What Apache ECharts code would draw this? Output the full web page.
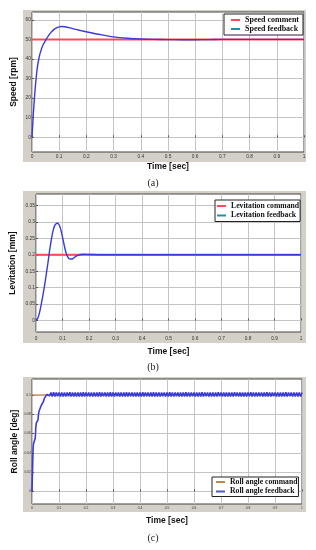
<!DOCTYPE html>
<html><head><meta charset="utf-8">
<script src="https://cdn.jsdelivr.net/npm/echarts@6/dist/echarts.min.js"></script>
<style>html,body{margin:0;padding:0;background:#fff}#c{width:316px;height:550px}</style>
</head><body><div id="c"></div>
<script>
// ---- tick labels ----
const timeTicks = [0, 0.1, 0.2, 0.3, 0.4, 0.5, 0.6, 0.7, 0.8, 0.9, 1];
const speedTicks = [0, 10, 20, 30, 40, 50, 60];
const levTicks = [0, 0.05, 0.1, 0.15, 0.2, 0.25, 0.3, 0.35];
const rollTicks = [0, 0.02, 0.04, 0.06, 0.08, 0.1];

// ---- (a) speed ----
const speedCommand = 50;
const speedTime = [0, 0.005, 0.01, 0.015, 0.02, 0.025, 0.03, 0.04, 0.05, 0.06, 0.07, 0.08, 0.09, 0.1, 0.11, 0.12, 0.14, 0.16, 0.18, 0.2, 0.25, 0.3, 0.35, 0.4, 0.45, 0.5, 0.55, 0.6, 0.65, 0.7, 0.8, 0.9, 1.0];
const speedFeedback = [0, 12, 22, 30, 36, 40, 43, 47, 49.5, 51.8, 53.6, 55, 55.9, 56.4, 56.6, 56.5, 55.9, 55.1, 54.5, 53.9, 52.5, 51.3, 50.6, 50.2, 50.0, 49.9, 49.85, 49.85, 49.9, 50, 50, 50, 50];

// ---- (b) levitation ----
const levCommand = 0.2;
const levTime = [0, 0.005, 0.01, 0.015, 0.02, 0.025, 0.03, 0.035, 0.04, 0.045, 0.05, 0.055, 0.06, 0.065, 0.07, 0.075, 0.08, 0.085, 0.09, 0.095, 0.1, 0.105, 0.11, 0.115, 0.12, 0.125, 0.13, 0.135, 0.14, 0.145, 0.15, 0.16, 0.17, 0.18, 0.2, 0.25, 0.3, 1];
const levFeedback = [0, 0.004, 0.014, 0.03, 0.05, 0.072, 0.095, 0.12, 0.148, 0.175, 0.205, 0.232, 0.256, 0.275, 0.288, 0.294, 0.296, 0.294, 0.286, 0.272, 0.254, 0.235, 0.216, 0.202, 0.193, 0.188, 0.187, 0.187, 0.189, 0.192, 0.195, 0.199, 0.201, 0.2015, 0.201, 0.2, 0.2, 0.2];

// ---- (c) roll angle ----
const rollCommand = 0.1;
const rollHeadTime = [0, 0.002, 0.004, 0.006, 0.008, 0.010, 0.012, 0.014, 0.016, 0.018, 0.020, 0.022, 0.024, 0.026, 0.028, 0.030, 0.032, 0.034, 0.036, 0.038, 0.040, 0.042, 0.044, 0.046, 0.048, 0.050, 0.052, 0.055, 0.0575, 0.060, 0.065];
const rollHeadValue = [0, 0.001, 0.045, 0.050, 0.052, 0.051, 0.055, 0.066, 0.071, 0.072, 0.071, 0.074, 0.080, 0.083, 0.083, 0.082, 0.085, 0.089, 0.091, 0.0905, 0.090, 0.093, 0.095, 0.0965, 0.096, 0.0955, 0.098, 0.1005, 0.0985, 0.1015, 0.099];
// sampled every 0.005 s from t = 0.07 s to 1.0 s
const rollTailStart = 0.07;
const rollTailStep = 0.005;
const rollTailValue = [
  0.1025, 0.0985, 0.1027, 0.0983, 0.1024, 0.0986, 0.1026, 0.0984, 0.1025, 0.0985,
  0.1026, 0.0984, 0.1025, 0.0986, 0.1027, 0.0984, 0.1024, 0.0985, 0.1026, 0.0983,
  0.1025, 0.0985, 0.1026, 0.0984, 0.1027, 0.0985, 0.1024, 0.0986, 0.1026, 0.0984,
  0.1025, 0.0984, 0.1026, 0.0985, 0.1025, 0.0983, 0.1027, 0.0985, 0.1024, 0.0986,
  0.1026, 0.0985, 0.1025, 0.0984, 0.1027, 0.0985, 0.1025, 0.0984, 0.1026, 0.0986,
  0.1024, 0.0985, 0.1026, 0.0983, 0.1025, 0.0985, 0.1027, 0.0984, 0.1025, 0.0986,
  0.1026, 0.0984, 0.1024, 0.0985, 0.1026, 0.0985, 0.1025, 0.0983, 0.1027, 0.0985,
  0.1025, 0.0986, 0.1026, 0.0984, 0.1024, 0.0985, 0.1027, 0.0984, 0.1025, 0.0985,
  0.1026, 0.0983, 0.1025, 0.0986, 0.1026, 0.0984, 0.1025, 0.0985, 0.1027, 0.0985,
  0.1024, 0.0984, 0.1026, 0.0986, 0.1025, 0.0985, 0.1026, 0.0983, 0.1025, 0.0985,
  0.1027, 0.0984, 0.1025, 0.0985, 0.1024, 0.0986, 0.1026, 0.0984, 0.1025, 0.0985,
  0.1026, 0.0985, 0.1027, 0.0983, 0.1025, 0.0986, 0.1024, 0.0984, 0.1026, 0.0985,
  0.1025, 0.0984, 0.1026, 0.0985, 0.1027, 0.0986, 0.1025, 0.0983, 0.1024, 0.0985,
  0.1026, 0.0984, 0.1025, 0.0985, 0.1026, 0.0984, 0.1027, 0.0986, 0.1025, 0.0985,
  0.1024, 0.0985, 0.1026, 0.0983, 0.1025, 0.0984, 0.1026, 0.0986, 0.1027, 0.0985,
  0.1025, 0.0984, 0.1024, 0.0985, 0.1026, 0.0986, 0.1025, 0.0983, 0.1026, 0.0985,
  0.1027, 0.0984, 0.1025, 0.0985, 0.1024, 0.0986, 0.1026, 0.0984, 0.1025, 0.0985,
  0.1026, 0.0983, 0.1025, 0.0985, 0.1027, 0.0984, 0.1025, 0.0986, 0.1024, 0.0985,
  0.1026, 0.0984, 0.1025, 0.0985, 0.1026, 0.0984, 0.1025
];

// ---- build ----
const pair = (ts, vs) => ts.map((t, i) => [t, vs[i]]);
const rollData = pair(rollHeadTime, rollHeadValue).concat(
  rollTailValue.map((v, i) => [+(rollTailStart + i * rollTailStep).toFixed(4), v]));

const FRAME = '#d4d0c8';
const grids = [
  { left: 32, top: 12, width: 272, height: 140 },
  { left: 36, top: 194, width: 265, height: 138 },
  { left: 32, top: 379, width: 270, height: 125 }
];
const frames = [
  { x: 23, y: 10, width: 283, height: 152 },
  { x: 23, y: 191, width: 283, height: 152 },
  { x: 23, y: 377, width: 283, height: 135 }
];
const tickSize = [4.8, 4.8, 3.3];
const yInfo = [
  { min: -7.5, max: 64, ticks: speedTicks, name: 'Speed [rpm]', gap: 14 },
  { min: -0.035, max: 0.385, ticks: levTicks, name: 'Levitation [mm]', gap: 18.5 },
  { min: -0.013, max: 0.1165, ticks: rollTicks, name: 'Roll angle [deg]', gap: 13.3 }
];
const xGaps = [10.5, 15, 12];
const xLabelMargin = [2.3, 3.8, 3];
const nameFont = { fontFamily: 'Liberation Sans', fontWeight: 'bold', fontSize: 8.5, color: '#111' };

const option = {
  animation: false,
  backgroundColor: '#fff',
  grid: grids.map(g => Object.assign({ show: true, backgroundColor: '#fff', borderColor: '#444', borderWidth: 1, containLabel: false, outerBoundsMode: 'none' }, g)),
  xAxis: grids.map((g, i) => ({
    type: 'value', gridIndex: i, min: 0, max: 1, interval: 0.1,
    axisLine: { show: false },
    axisTick: { show: true, inside: true, length: 2, lineStyle: { color: '#555' } },
    axisLabel: { margin: xLabelMargin[i], customValues: timeTicks, formatter: v => String(v), fontSize: tickSize[i], color: '#333', fontFamily: 'Liberation Sans' },
    splitLine: { show: true, lineStyle: { color: '#c4c4c4', width: 1 } },
    name: 'Time [sec]', nameLocation: 'middle', nameGap: xGaps[i], nameMoveOverlap: false,
    nameTextStyle: nameFont
  })),
  yAxis: yInfo.map((y, i) => ({
    type: 'value', gridIndex: i, min: y.min, max: y.max,
    axisLine: { show: false },
    axisTick: { show: true, inside: true, length: 2, customValues: y.ticks, lineStyle: { color: '#555' } },
    axisLabel: { margin: 1.2, customValues: y.ticks, formatter: v => String(v), fontSize: tickSize[i], color: '#333', fontFamily: 'Liberation Sans' },
    splitLine: { show: true, lineStyle: { color: '#c4c4c4', width: 1 } },
    name: y.name, nameLocation: 'middle', nameRotate: 90, nameGap: y.gap, nameMoveOverlap: false,
    nameTextStyle: nameFont
  })),
  legend: [
    { names: ['Speed comment', 'Speed feedback'], colors: ['#ff4a5a', '#1f8fa8'], left: 224, top: 14, pad: [2, 4, 2, 7], fs: 8, gap: 1 },
    { names: ['Levitation command', 'Levitation feedback'], colors: ['#ff4a5a', '#1f8fa8'], left: 215, top: 200, pad: [2, 1, 2, 2], fs: 7.7, gap: 1.5 },
    { names: ['Roll angle command', 'Roll angle feedback'], colors: ['#b88a4a', '#4a5ad0'], left: 212, top: 477, pad: [1, 1, 1, 4], fs: 7.7, gap: 1.5 }
  ].map(l => ({
    orient: 'vertical', left: l.left, top: l.top, selectedMode: false,
    data: l.names.map((n, k) => ({ name: n, icon: 'rect', itemStyle: { color: l.colors[k] } })),
    backgroundColor: '#fff', borderColor: '#222', borderWidth: 1, borderRadius: 0,
    padding: l.pad, itemGap: l.gap, itemWidth: 9, itemHeight: 2,
    textStyle: { fontFamily: 'Liberation Serif', fontWeight: 'bold', fontSize: l.fs, color: '#111' }
  })),
  graphic: frames.map(f => ({ type: 'rect', z: -10, silent: true, shape: f, style: { fill: FRAME } }))
    .concat([
      { t: '(a)', x: 153, y: 183 }, { t: '(b)', x: 153, y: 367 }, { t: '(c)', x: 153, y: 538 }
    ].map(c => ({ type: 'text', x: c.x, y: c.y, silent: true,
      style: { text: c.t, fill: '#222', font: '10px "Liberation Serif"', textAlign: 'center', textVerticalAlign: 'middle' } }))),
  series: [
    { name: 'Speed comment', type: 'line', xAxisIndex: 0, yAxisIndex: 0, showSymbol: false, data: [[0, speedCommand], [1, speedCommand]], lineStyle: { color: '#ff4a5a', width: 2 }, itemStyle: { color: '#ff4a5a' } },
    { name: 'Speed feedback', type: 'line', xAxisIndex: 0, yAxisIndex: 0, showSymbol: false, smooth: 0.3, data: pair(speedTime, speedFeedback), lineStyle: { color: '#3a3ad8', width: 1.4 }, itemStyle: { color: '#1f8fa8' } },
    { name: 'Levitation command', type: 'line', xAxisIndex: 1, yAxisIndex: 1, showSymbol: false, data: [[0, levCommand], [1, levCommand]], lineStyle: { color: '#ff4a5a', width: 2 }, itemStyle: { color: '#ff4a5a' } },
    { name: 'Levitation feedback', type: 'line', xAxisIndex: 1, yAxisIndex: 1, showSymbol: false, smooth: 0.3, data: pair(levTime, levFeedback), lineStyle: { color: '#3a3ad8', width: 1.4 }, itemStyle: { color: '#1f8fa8' } },
    { name: 'Roll angle command', type: 'line', xAxisIndex: 2, yAxisIndex: 2, showSymbol: false, data: [[0, rollCommand], [1, rollCommand]], lineStyle: { color: '#d0702a', width: 1 }, itemStyle: { color: '#b88a4a' } },
    { name: 'Roll angle feedback', type: 'line', xAxisIndex: 2, yAxisIndex: 2, showSymbol: false, data: rollData, lineStyle: { color: '#3a3ad8', width: 1.6 }, itemStyle: { color: '#4a5ad0' } }
  ]
};
const chart = echarts.init(document.getElementById('c'), null, { renderer: 'canvas' });
chart.setOption(option);
</script></body></html>
